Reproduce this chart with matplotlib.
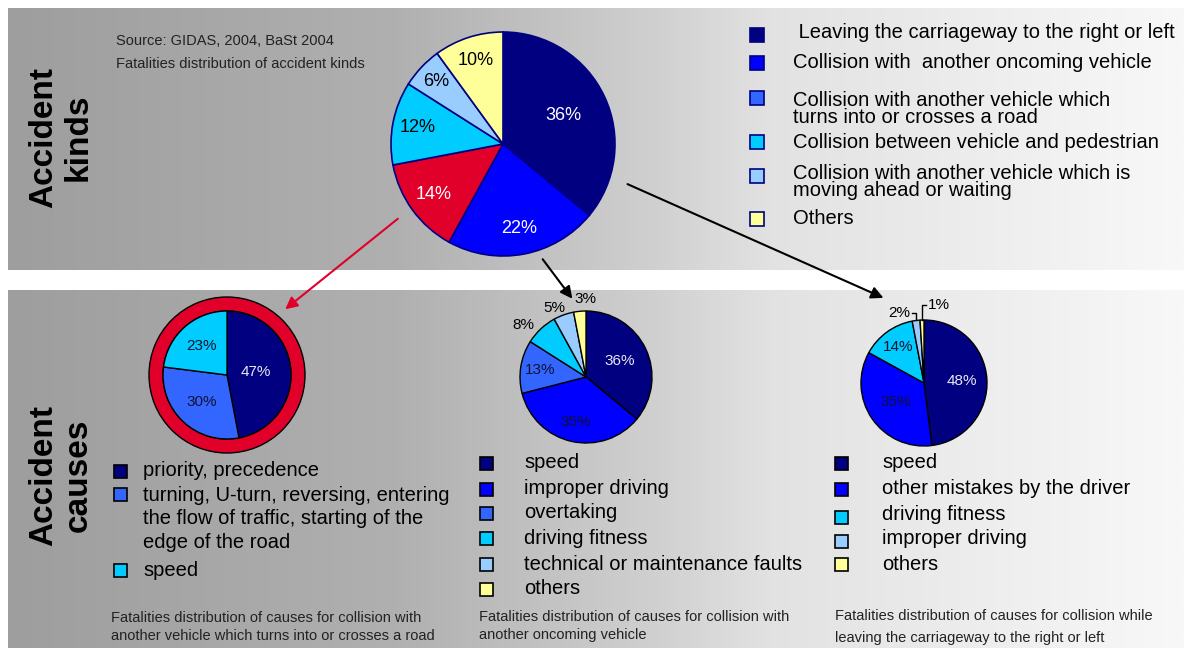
import numpy as np
import matplotlib.pyplot as plt
from matplotlib.colors import LinearSegmentedColormap
from matplotlib.patches import Rectangle

W, H = 1184, 648

# accident kinds (top pie)
kind_labels = [" Leaving the carriageway to the right or left",
               "Collision with  another oncoming vehicle",
               "Collision with another vehicle which\nturns into or crosses a road",
               "Collision between vehicle and pedestrian",
               "Collision with another vehicle which is\nmoving ahead or waiting",
               "Others"]
kind_values = [36, 22, 14, 12, 6, 10]

# causes: turning into / crossing a road
turn_labels = ["priority, precedence",
               "turning, U-turn, reversing, entering\nthe flow of traffic, starting of the\nedge of the road",
               "speed"]
turn_values = [47, 30, 23]

# causes: oncoming vehicle
oncoming_labels = ["speed", "improper driving", "overtaking", "driving fitness",
                   "technical or maintenance faults", "others"]
oncoming_values = [36, 35, 13, 8, 5, 3]

# causes: leaving the carriageway
leaving_labels = ["speed", "other mistakes by the driver", "driving fitness",
                  "improper driving", "others"]
leaving_values = [48, 35, 14, 2, 1]

NAVY = '#000080'
BLUE = '#0000FF'
MID = '#3366FF'
CYAN = '#00CCFF'
LIGHT = '#99CCFF'
YELLOW = '#FFFF99'
RED = '#E0002A'

plt.rcParams['font.family'] = ['Liberation Sans', 'DejaVu Sans']

fig = plt.figure(figsize=(11.84, 6.48), dpi=100)
ax = fig.add_axes([0, 0, 1, 1])

# grey gradient panels
grad = np.linspace(0, 1, 512).reshape(1, -1)
bg = LinearSegmentedColormap.from_list('bg', [(0, '#9e9e9e'), (0.33, '#b0b0b0'), (0.55, '#d0d0d0'),
                                              (0.65, '#e2e2e2'), (1, '#f8f8f8')])
ax.imshow(grad, cmap=bg, extent=(8, W, H - 270, H - 8), aspect='auto', zorder=0)
ax.imshow(grad, cmap=bg, extent=(8, W, 0, H - 290), aspect='auto', zorder=0)


def pct(p):
    return '%.0f%%' % p


def put_labels(wedges, texts, cx, cy, r, dists, shifts=None):
    if shifts is None:
        shifts = [0] * len(wedges)
    for w, t, d, s in zip(wedges, texts, dists, shifts):
        a = np.deg2rad((w.theta1 + w.theta2) / 2.0 + s)
        t.set_position((cx + d * r * np.cos(a), H - cy + d * r * np.sin(a)))


def legend(x_sq, x_txt, ys_sq, ys_txt, labels, colors, size, ec, fs, ls=1.0):
    for ysq, yt, lab, c in zip(ys_sq, ys_txt, labels, colors):
        ax.add_patch(Rectangle((x_sq - size / 2.0, H - ysq - size / 2.0), size, size,
                               facecolor=c, edgecolor=ec, lw=1.2, zorder=3))
        ax.text(x_txt, H - yt, lab, fontsize=fs, va='center', ha='left',
                linespacing=ls, zorder=3)


# ---- top pie: accident kinds
cx, cy, r = 503, 144, 112
w, t = ax.pie(kind_values, colors=[NAVY, BLUE, RED, CYAN, LIGHT, YELLOW], startangle=90,
              counterclock=False, center=(cx, H - cy), radius=r, frame=True,
              wedgeprops=dict(edgecolor=NAVY, linewidth=1.2), labels=[pct(v) for v in kind_values],
              labeldistance=0.7, textprops=dict(fontsize=13))[:2]
put_labels(w, t, cx, cy, r, [0.6, 0.77, 0.77, 0.78, 0.82, 0.78])
for txt, c in zip(t, ['white', 'white', 'white', 'black', 'black', 'black']):
    txt.set_color(c)
    txt.set_ha('center')
    txt.set_va('center')

legend(757, 793, [35, 63, 98, 142, 176, 219], [33, 63, 109, 142, 182, 219], kind_labels,
       [NAVY, BLUE, MID, CYAN, LIGHT, YELLOW], 14, NAVY, 14.5, ls=0.88)

ax.text(116, H - 41, "Source: GIDAS, 2004, BaSt 2004", fontsize=10.5, va='center', color='#222222')
ax.text(116, H - 64, "Fatalities distribution of accident kinds", fontsize=10.5, va='center', color='#222222')

ax.text(61, H - 137, "Accident\nkinds", rotation=90, fontsize=24, fontweight='bold',
        ha='center', va='center', multialignment='center', linespacing=1.15)
ax.text(61, H - 475, "Accident\ncauses", rotation=90, fontsize=24, fontweight='bold',
        ha='center', va='center', multialignment='center', linespacing=1.15)

# ---- bottom left pie with red ring
cx, cy, r = 227, 375, 64
ax.pie([1], colors=[RED], center=(cx, H - cy), radius=78, frame=True,
       wedgeprops=dict(width=14, edgecolor='black', linewidth=1))
w, t = ax.pie(turn_values, colors=[NAVY, MID, CYAN], startangle=90, counterclock=False,
              center=(cx, H - cy), radius=r, frame=True,
              wedgeprops=dict(edgecolor='black', linewidth=1), labels=[pct(v) for v in turn_values],
              textprops=dict(fontsize=11))[:2]
put_labels(w, t, cx, cy, r, [0.45, 0.58, 0.61])
for txt, c in zip(t, ['#e8e8f0', '#111133', '#111133']):
    txt.set_color(c)
    txt.set_ha('center')
    txt.set_va('center')

legend(120, 143, [471, 494, 570], [471, 519, 570], turn_labels, [NAVY, MID, CYAN], 13, 'black', 14.5, ls=1.27)
ax.text(111, H - 627, "Fatalities distribution of causes for collision with\nanother vehicle which turns into or crosses a road",
        fontsize=10.5, va='center', color='#222222', linespacing=1.45)

# ---- bottom middle pie
cx, cy, r = 586, 377, 66
w, t = ax.pie(oncoming_values, colors=[NAVY, BLUE, MID, CYAN, LIGHT, YELLOW], startangle=90,
              counterclock=False, center=(cx, H - cy), radius=r, frame=True,
              wedgeprops=dict(edgecolor='black', linewidth=1), labels=[pct(v) for v in oncoming_values],
              textprops=dict(fontsize=11))[:2]
put_labels(w, t, cx, cy, r, [0.56, 0.7, 0.7, 1.24, 1.16, 1.18], [0, 0, 0, 7, 5, -5])
for txt, c in zip(t, ['#e8e8f0', '#111133', '#111133', 'black', 'black', 'black']):
    txt.set_color(c)
    txt.set_ha('center')
    txt.set_va('center')

legend(486, 524, [463, 489, 513, 538, 564, 589], [463, 489, 513, 538, 564, 589], oncoming_labels,
       [NAVY, BLUE, MID, CYAN, LIGHT, YELLOW], 13, 'black', 14.5)
ax.text(479, H - 626, "Fatalities distribution of causes for collision with\nanother oncoming vehicle",
        fontsize=10.5, va='center', color='#222222', linespacing=1.45)

# ---- bottom right pie
cx, cy, r = 924, 383, 63
w, t = ax.pie(leaving_values, colors=[NAVY, BLUE, CYAN, LIGHT, YELLOW], startangle=90,
              counterclock=False, center=(cx, H - cy), radius=r, frame=True,
              wedgeprops=dict(edgecolor='black', linewidth=1), labels=[pct(v) for v in leaving_values],
              textprops=dict(fontsize=11))[:2]
put_labels(w, t, cx, cy, r, [0.6, 0.55, 0.7, 1.0, 1.0])
for txt, c in zip(t, ['#e8e8f0', '#111133', '#111133', 'black', 'black']):
    txt.set_color(c)
    txt.set_ha('center')
    txt.set_va('center')
# leader lines for the two tiny slices
for k, side in [(3, -1), (4, 1)]:
    a = np.deg2rad((w[k].theta1 + w[k].theta2) / 2.0)
    ex, ey = cx + r * np.cos(a), H - cy + r * np.sin(a)
    rise = 7 if side < 0 else 15
    ax.plot([ex, ex, ex + 4 * side], [ey, ey + rise, ey + rise], color='black', lw=1, zorder=3)
    t[k].set_position((ex + 6 * side, ey + rise))
    t[k].set_ha('right' if side < 0 else 'left')

legend(841, 882, [463, 489, 517, 541, 564], [463, 488, 514, 539, 564], leaving_labels,
       [NAVY, BLUE, CYAN, LIGHT, YELLOW], 13, 'black', 14.5)
ax.text(835, H - 627, "Fatalities distribution of causes for collision while\nleaving the carriageway to the right or left",
        fontsize=10.5, va='center', color='#222222', linespacing=1.75)

# ---- arrows
ax.annotate('', xy=(283, H - 311), xytext=(400, H - 217),
            arrowprops=dict(arrowstyle='-|>', color=RED, lw=1.5, mutation_scale=18))
ax.annotate('', xy=(574, H - 301), xytext=(541, H - 257),
            arrowprops=dict(arrowstyle='-|>', color='black', lw=1.5, mutation_scale=18))
ax.annotate('', xy=(886, H - 299), xytext=(625, H - 183),
            arrowprops=dict(arrowstyle='-|>', color='black', lw=1.5, mutation_scale=18))

ax.set_xlim(0, W)
ax.set_ylim(0, H)
ax.axis('off')

fig.savefig('out.png', dpi=100)
